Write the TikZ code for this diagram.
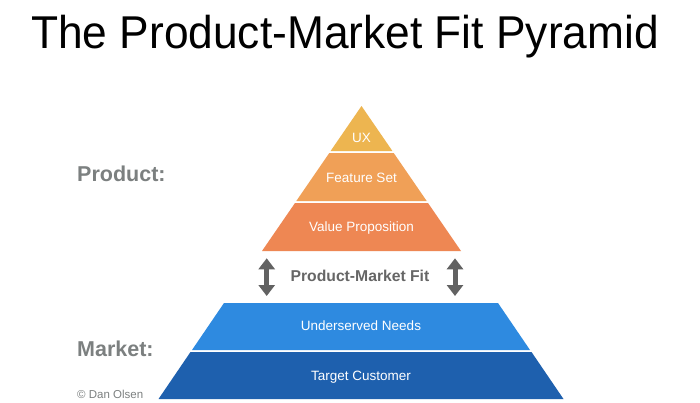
\documentclass[tikz,border=0pt]{standalone}
\usepackage{fontspec}
\setmainfont{Liberation Sans}
\usetikzlibrary{arrows.meta}
\definecolor{uxc}{HTML}{EDB550}
\definecolor{featc}{HTML}{F0A057}
\definecolor{valc}{HTML}{EE8753}
\definecolor{needc}{HTML}{2E8AE0}
\definecolor{custc}{HTML}{1E60AE}
\definecolor{labc}{HTML}{7C8080}
\definecolor{arrc}{HTML}{626262}
\definecolor{fitc}{HTML}{666666}
\tikzset{
  layertext/.style={text=white, font=\fontsize{13.5}{16}\selectfont, inner sep=0pt},
  sidelabel/.style={text=labc, font=\fontsize{21.5}{24}\selectfont\bfseries, inner sep=0pt, anchor=base west},
  fitarrow/.style={draw=arrc, line width=5pt, {Triangle[width=16pt,length=11pt]}-{Triangle[width=16pt,length=11pt]}}
}
\begin{document}
\begin{tikzpicture}[x=1pt,y=-1pt]
\useasboundingbox (0,0) rectangle (700,402);
\fill[white] (0,0) rectangle (700,402);
% title
\node[anchor=base, inner sep=0pt, font=\fontsize{46}{50}\selectfont] (title) at (345,48.3) {\scalebox{0.963}[1]{The Product-Market Fit Pyramid}};
% product pyramid
\fill[uxc] (361.5,106) -- (392.4,151) -- (330.6,151) -- cycle;
\fill[featc] (329.3,153) -- (393.7,153) -- (426.7,201) -- (296.3,201) -- cycle;
\fill[valc] (295,203) -- (428,203) -- (461,251) -- (262,251) -- cycle;
% market trapezoid
\fill[needc] (224,303) -- (498,303) -- (530,350) -- (192,350) -- cycle;
\fill[custc] (190.5,352) -- (531.5,352) -- (563.5,399) -- (158.5,399) -- cycle;
% layer labels
\node[layertext] (ux) at (361.5,138) {UX};
\node[layertext] (feat) at (361.5,177.5) {Feature Set};
\node[layertext] (val) at (361.5,228) {Value Proposition};
\node[layertext] (need) at (361,326) {Underserved Needs};
\node[layertext] (cust) at (361,377) {Target Customer};
% fit
\node[text=fitc, font=\fontsize{15.7}{18}\selectfont\bfseries, inner sep=0pt] (fit) at (360,276) {Product-Market Fit};
\coordinate (la) at (266.7,258.3);
\coordinate (lb) at (266.7,296);
\coordinate (ra) at (455,258.3);
\coordinate (rb) at (455,296);
\draw[fitarrow] (la) -- (lb);
\draw[fitarrow] (ra) -- (rb);
% side labels
\node[sidelabel] (prod) at (77,181.7) {Product:};
\node[sidelabel] (mkt) at (77,356.5) {Market:};
\node[anchor=base west, inner sep=0pt, text=labc, font=\fontsize{11.5}{13}\selectfont] (copy) at (77,398) {© Dan Olsen};
\end{tikzpicture}
\end{document}
